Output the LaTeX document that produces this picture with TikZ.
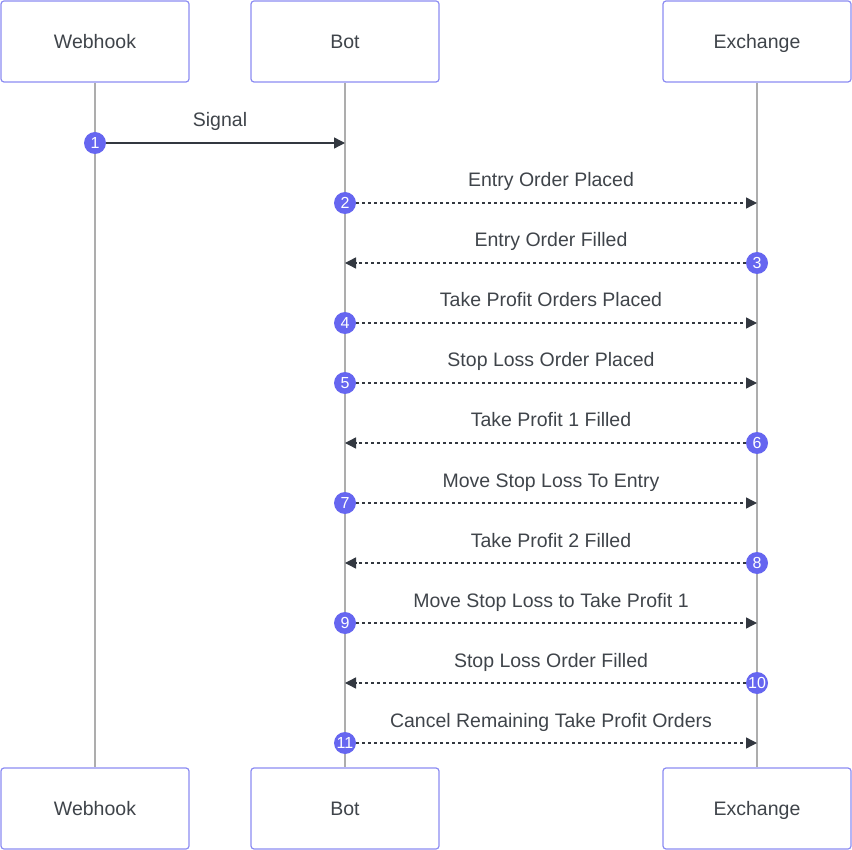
\documentclass[tikz,border=0pt]{standalone}
\usepackage{fontspec}
\setmainfont{Liberation Sans}
\usetikzlibrary{arrows.meta}
\definecolor{boxline}{HTML}{8C8CF2}
\definecolor{lifegray}{HTML}{ADADAD}
\definecolor{msgdark}{HTML}{333840}
\definecolor{numblue}{HTML}{6666F0}
\definecolor{txtgray}{HTML}{3F444A}
\begin{document}
\begin{tikzpicture}[x=1pt, y=-1pt]
%styles des noeuds
\tikzstyle{actor}=[rectangle, draw=boxline, line width=1.2pt, rounded corners=3pt, fill=white, minimum width=188pt, minimum height=81pt, text=txtgray, text height=14pt, text depth=0pt, font=\fontsize{19.5}{22}\selectfont]
\tikzstyle{num}=[circle, fill=numblue, text=white, inner sep=0pt, minimum size=22pt, font=\fontsize{16}{18}\selectfont]
\tikzstyle{msgtext}=[rectangle, text=txtgray, text height=14pt, text depth=0pt, font=\fontsize{19.5}{22}\selectfont]
\tikzstyle{life}=[lifegray, line width=2.4pt]
\tikzstyle{msg}=[msgdark, line width=1.4pt, -{Triangle[length=11pt,width=11pt]}]
\tikzstyle{reply}=[msg, dash pattern=on 3pt off 3pt]
\useasboundingbox (0,0) rectangle (852,850);
%acteurs
\node[actor] (webhook) at (95,41.5) {Webhook};
\node[actor] (bot) at (345,41.5) {Bot};
\node[actor] (exchange) at (757,41.5) {Exchange};
\node[actor] (webhookB) at (95,808.5) {Webhook};
\node[actor] (botB) at (345,808.5) {Bot};
\node[actor] (exchangeB) at (757,808.5) {Exchange};
% lignes de vie
\draw[life] (webhook) -- (webhookB);
\draw[life] (bot) -- (botB);
\draw[life] (exchange) -- (exchangeB);

% 1 signal
\node[num] (n1) at (95,143) {1};
\coordinate (e1) at (345,143);
\draw[msg] (n1) -- (e1);
\node[msgtext] (m1) at (220,120) {Signal};
% 2
\node[num] (n2) at (345,203) {2};
\coordinate (e2) at (757,203);
\draw[reply] (n2) -- (e2);
\node[msgtext] (m2) at (551,180) {Entry Order Placed};
% 3
\node[num] (n3) at (757,263) {3};
\coordinate (e3) at (345,263);
\draw[reply] (n3) -- (e3);
\node[msgtext] (m3) at (551,240) {Entry Order Filled};
% 4
\node[num] (n4) at (345,323) {4};
\coordinate (e4) at (757,323);
\draw[reply] (n4) -- (e4);
\node[msgtext] (m4) at (551,300) {Take Profit Orders Placed};
% 5
\node[num] (n5) at (345,383) {5};
\coordinate (e5) at (757,383);
\draw[reply] (n5) -- (e5);
\node[msgtext] (m5) at (551,360) {Stop Loss Order Placed};
% 6
\node[num] (n6) at (757,443) {6};
\coordinate (e6) at (345,443);
\draw[reply] (n6) -- (e6);
\node[msgtext] (m6) at (551,420) {Take Profit 1 Filled};
% 7
\node[num] (n7) at (345,503) {7};
\coordinate (e7) at (757,503);
\draw[reply] (n7) -- (e7);
\node[msgtext] (m7) at (551,480) {Move Stop Loss To Entry};
% 8
\node[num] (n8) at (757,563) {8};
\coordinate (e8) at (345,563);
\draw[reply] (n8) -- (e8);
\node[msgtext] (m8) at (551,540) {Take Profit 2 Filled};
% 9
\node[num] (n9) at (345,623) {9};
\coordinate (e9) at (757,623);
\draw[reply] (n9) -- (e9);
\node[msgtext] (m9) at (551,600) {Move Stop Loss to Take Profit 1};
% 10
\node[num] (n10) at (757,683) {10};
\coordinate (e10) at (345,683);
\draw[reply] (n10) -- (e10);
\node[msgtext] (m10) at (551,660) {Stop Loss Order Filled};
% 11
\node[num] (n11) at (345,743) {11};
\coordinate (e11) at (757,743);
\draw[reply] (n11) -- (e11);
\node[msgtext] (m11) at (551,720) {Cancel Remaining Take Profit Orders};
\end{tikzpicture}
\end{document}
